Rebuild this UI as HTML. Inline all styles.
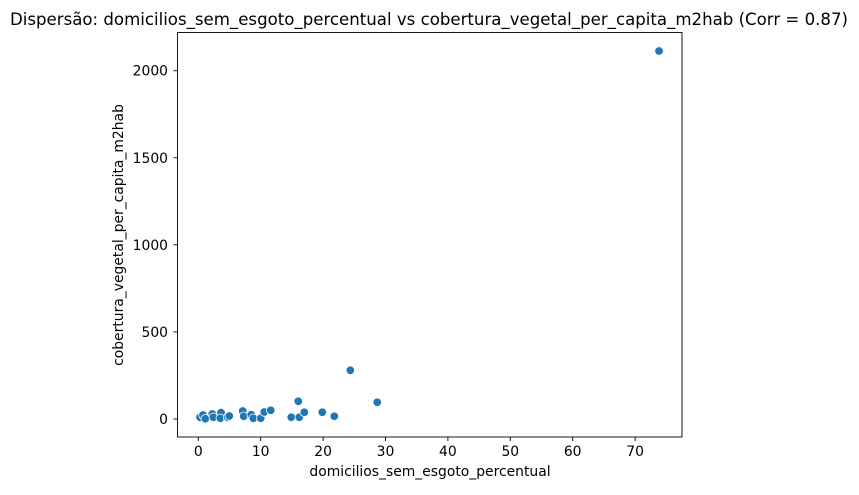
<!DOCTYPE html><html><head><style>body{margin:0;background:#fff}text{font-family:"DejaVu Sans","Liberation Sans",sans-serif;fill:#000}</style></head><body>
<svg width="859" height="490" xmlns="http://www.w3.org/2000/svg">
<text x="429" y="25" font-size="16.6" text-anchor="middle">Dispersão: domicilios_sem_esgoto_percentual vs cobertura_vegetal_per_capita_m2hab (Corr = 0.87)</text>
<g fill="#1f77b4" stroke="#fff" stroke-width="0.8">
<circle cx="200" cy="417.3" r="4.3"/><circle cx="203" cy="415" r="4.3"/><circle cx="205.3" cy="418.7" r="4.3"/><circle cx="212.3" cy="414" r="4.3"/><circle cx="213.3" cy="417.3" r="4.3"/><circle cx="221" cy="412.7" r="4.3"/><circle cx="220.3" cy="418.3" r="4.3"/><circle cx="227.7" cy="417.3" r="4.3"/><circle cx="229.3" cy="416" r="4.3"/><circle cx="242.7" cy="411" r="4.3"/><circle cx="243.7" cy="416.3" r="4.3"/><circle cx="251.3" cy="414.7" r="4.3"/><circle cx="253.3" cy="418.3" r="4.3"/><circle cx="260.7" cy="418.3" r="4.3"/><circle cx="264.3" cy="412" r="4.3"/><circle cx="270.7" cy="410.3" r="4.3"/><circle cx="291.3" cy="417.3" r="4.3"/><circle cx="298.3" cy="401.3" r="4.3"/><circle cx="299.3" cy="417.3" r="4.3"/><circle cx="304.3" cy="412.3" r="4.3"/><circle cx="322.3" cy="412.3" r="4.3"/><circle cx="334.3" cy="416.3" r="4.3"/><circle cx="350.3" cy="370.3" r="4.3"/><circle cx="377.3" cy="402.3" r="4.3"/><circle cx="659" cy="51" r="4.3"/>
</g>
<rect x="177.5" y="32.5" width="504.5" height="404.5" fill="none" stroke="#000" stroke-width="0.9"/>
<g stroke="#000" stroke-width="0.9">
<line x1="198.3" y1="437" x2="198.3" y2="441"/><line x1="260.7" y1="437" x2="260.7" y2="441"/><line x1="323.1" y1="437" x2="323.1" y2="441"/><line x1="385.5" y1="437" x2="385.5" y2="441"/><line x1="447.9" y1="437" x2="447.9" y2="441"/><line x1="510.3" y1="437" x2="510.3" y2="441"/><line x1="572.7" y1="437" x2="572.7" y2="441"/><line x1="635.1" y1="437" x2="635.1" y2="441"/>
<line x1="177.5" y1="419" x2="173.5" y2="419"/><line x1="177.5" y1="331.9" x2="173.5" y2="331.9"/><line x1="177.5" y1="244.8" x2="173.5" y2="244.8"/><line x1="177.5" y1="157.8" x2="173.5" y2="157.8"/><line x1="177.5" y1="70.7" x2="173.5" y2="70.7"/>
</g>
<g font-size="13.9" text-anchor="middle">
<text x="198.3" y="456">0</text><text x="260.7" y="456">10</text><text x="323.1" y="456">20</text><text x="385.5" y="456">30</text><text x="447.9" y="456">40</text><text x="510.3" y="456">50</text><text x="572.7" y="456">60</text><text x="635.1" y="456">70</text>
</g>
<g font-size="13.9" text-anchor="end">
<text x="168" y="424">0</text><text x="168" y="336.9">500</text><text x="168" y="249.8">1000</text><text x="168" y="162.8">1500</text><text x="168" y="75.7">2000</text>
</g>
<text x="430" y="476" font-size="13.9" text-anchor="middle">domicilios_sem_esgoto_percentual</text>
<text transform="translate(123,235) rotate(-90)" font-size="13.9" text-anchor="middle">cobertura_vegetal_per_capita_m2hab</text>
</svg></body></html>
